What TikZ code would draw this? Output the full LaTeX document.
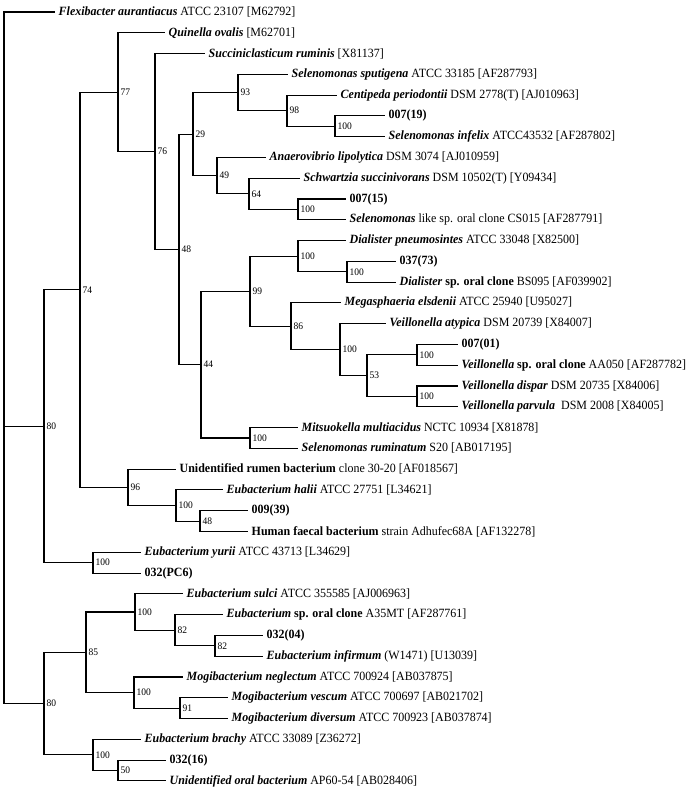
\documentclass[tikz,border=0pt]{standalone}
\usepackage{fontspec}
\setmainfont{Liberation Serif}[FakeStretch=0.95]
\usetikzlibrary{positioning}
\newcommand{\taxon}[1]{\textbf{\textit{#1}}}

\begin{document}
\begin{tikzpicture}[x=1pt,y=-1pt,
  leaf/.style={anchor=west,inner sep=3.5pt,font=\fontsize{12.6}{15}\selectfont},
  boot/.style={anchor=west,inner sep=2.5pt,font=\fontsize{10}{11}\selectfont},
  branch/.style={line width=1.1pt}
]
\useasboundingbox (0,0) rectangle (695,793);
% leaves
\node[leaf] (flex) at (55,12) {\taxon{Flexibacter aurantiacus} ATCC 23107 [M62792]};
\node[leaf] (quin) at (165,32.8) {\taxon{Quinella ovalis} [M62701]};
\node[leaf] (succ) at (205,53.6) {\taxon{Succiniclasticum ruminis} [X81137]};
\node[leaf] (sput) at (288,74.3) {\taxon{Selenomonas sputigena} ATCC 33185 [AF287793]};
\node[leaf] (cent) at (337,95.1) {\taxon{Centipeda periodontii} DSM 2778(T) [AJ010963]};
\node[leaf] (s019) at (385,115.9) {\textbf{007(19)}};
\node[leaf] (infe) at (385,136.7) {\taxon{Selenomonas infelix} ATCC43532 [AF287802]};
\node[leaf] (anae) at (266,157.5) {\taxon{Anaerovibrio lipolytica} DSM 3074 [AJ010959]};
\node[leaf] (schw) at (300,178.2) {\taxon{Schwartzia succinivorans} DSM 10502(T) [Y09434]};
\node[leaf] (s015) at (346,199.0) {\textbf{007(15)}};
\node[leaf] (slike) at (346,219.8) {\taxon{Selenomonas} like sp. oral clone CS015 [AF287791]};
\node[leaf] (dpne) at (346,240.6) {\taxon{Dialister pneumosintes} ATCC 33048 [X82500]};
\node[leaf] (s073) at (396,261.4) {\textbf{037(73)}};
\node[leaf] (dsp) at (396,282.1) {\taxon{Dialister} \textbf{sp. oral clone} BS095 [AF039902]};
\node[leaf] (mega) at (341,302.9) {\taxon{Megasphaeria elsdenii} ATCC 25940 [U95027]};
\node[leaf] (vaty) at (386,323.7) {\taxon{Veillonella atypica} DSM 20739 [X84007]};
\node[leaf] (s001) at (458,344.5) {\textbf{007(01)}};
\node[leaf] (vsp) at (458,365.3) {\taxon{Veillonella} \textbf{sp. oral clone} AA050 [AF287782]};
\node[leaf] (vdis) at (458,386.0) {\taxon{Veillonella dispar} DSM 20735 [X84006]};
\node[leaf] (vpar) at (458,406.8) {\taxon{Veillonella parvula}\ \ DSM 2008 [X84005]};
\node[leaf] (mits) at (298,427.6) {\taxon{Mitsuokella multiacidus} NCTC 10934 [X81878]};
\node[leaf] (srum) at (298,448.4) {\taxon{Selenomonas ruminatum} S20 [AB017195]};
\node[leaf] (urum) at (176,469.2) {\textbf{Unidentified rumen bacterium} clone 30-20 [AF018567]};
\node[leaf] (ehal) at (223,489.9) {\taxon{Eubacterium halii} ATCC 27751 [L34621]};
\node[leaf] (s039) at (248,510.7) {\textbf{009(39)}};
\node[leaf] (hfae) at (248,531.5) {\textbf{Human faecal bacterium} strain Adhufec68A [AF132278]};
\node[leaf] (eyur) at (141,552.3) {\taxon{Eubacterium yurii} ATCC 43713 [L34629]};
\node[leaf] (spc6) at (141,573.1) {\textbf{032(PC6)}};
\node[leaf] (esul) at (183,593.8) {\taxon{Eubacterium sulci} ATCC 355585 [AJ006963]};
\node[leaf] (esp) at (223,614.6) {\taxon{Eubacterium} \textbf{sp. oral clone} A35MT [AF287761]};
\node[leaf] (s004) at (263,635.4) {\textbf{032(04)}};
\node[leaf] (einf) at (263,656.2) {\taxon{Eubacterium infirmum} (W1471) [U13039]};
\node[leaf] (mneg) at (183,677.0) {\taxon{Mogibacterium neglectum} ATCC 700924 [AB037875]};
\node[leaf] (mves) at (228,697.7) {\taxon{Mogibacterium vescum} ATCC 700697 [AB021702]};
\node[leaf] (mdiv) at (228,718.5) {\taxon{Mogibacterium diversum} ATCC 700923 [AB037874]};
\node[leaf] (ebra) at (141,739.3) {\taxon{Eubacterium brachy} ATCC 33089 [Z36272]};
\node[leaf] (s016) at (166,760.1) {\textbf{032(16)}};
\node[leaf] (uora) at (166,780.9) {\taxon{Unidentified oral bacterium} AP60-54 [AB028406]};
% branch points with bootstrap values
\coordinate (root) at (4,426.3);
\node[boot] (n80a) at (44,426.3) {80};
\node[boot] (n74) at (80,289.8) {74};
\node[boot] (n77) at (118,92.2) {77};
\node[boot] (n76) at (155,151.5) {76};
\node[boot] (n48a) at (179,249.4) {48};
\node[boot] (n29) at (193,134.1) {29};
\node[boot] (n93) at (238,92.5) {93};
\node[boot] (n98) at (287,110.7) {98};
\node[boot] (n100a) at (335,126.3) {100};
\node[boot] (n49) at (217,175.7) {49};
\node[boot] (n64) at (249,193.8) {64};
\node[boot] (n100b) at (298,209.4) {100};
\node[boot] (n44) at (201,364.6) {44};
\node[boot] (n99) at (250,291.2) {99};
\node[boot] (n100c) at (298,256.2) {100};
\node[boot] (n100d) at (347,271.8) {100};
\node[boot] (n86) at (291,326.3) {86};
\node[boot] (n100e) at (340,349.7) {100};
\node[boot] (n53) at (367,375.6) {53};
\node[boot] (n100f) at (417,354.9) {100};
\node[boot] (n100g) at (417,396.4) {100};
\node[boot] (n100h) at (250,438.0) {100};
\node[boot] (n96) at (128,487.4) {96};
\node[boot] (n100i) at (176,505.5) {100};
\node[boot] (n48b) at (200,521.1) {48};
\node[boot] (n100j) at (93,562.7) {100};
\node[boot] (n80b) at (44,703.6) {80};
\node[boot] (n85) at (86,652.3) {85};
\node[boot] (n100k) at (135,612.0) {100};
\node[boot] (n82a) at (175,630.2) {82};
\node[boot] (n82b) at (215,645.8) {82};
\node[boot] (n100l) at (134,692.6) {100};
\node[boot] (n91) at (180,708.1) {91};
\node[boot] (n100m) at (93,754.9) {100};
\node[boot] (n50) at (118,770.5) {50};
% branches
\draw[branch] (root) |- (flex.west);
\draw[branch] (root) |- (n80a.west);
\draw[branch] (root) |- (n80b.west);
\draw[branch] (n80a.west) |- (n74.west);
\draw[branch] (n80a.west) |- (n100j.west);
\draw[branch] (n74.west) |- (n77.west);
\draw[branch] (n74.west) |- (n96.west);
\draw[branch] (n77.west) |- (quin.west);
\draw[branch] (n77.west) |- (n76.west);
\draw[branch] (n76.west) |- (succ.west);
\draw[branch] (n76.west) |- (n48a.west);
\draw[branch] (n48a.west) |- (n29.west);
\draw[branch] (n48a.west) |- (n44.west);
\draw[branch] (n29.west) |- (n93.west);
\draw[branch] (n29.west) |- (n49.west);
\draw[branch] (n93.west) |- (sput.west);
\draw[branch] (n93.west) |- (n98.west);
\draw[branch] (n98.west) |- (cent.west);
\draw[branch] (n98.west) |- (n100a.west);
\draw[branch] (n100a.west) |- (s019.west);
\draw[branch] (n100a.west) |- (infe.west);
\draw[branch] (n49.west) |- (anae.west);
\draw[branch] (n49.west) |- (n64.west);
\draw[branch] (n64.west) |- (schw.west);
\draw[branch] (n64.west) |- (n100b.west);
\draw[branch] (n100b.west) |- (s015.west);
\draw[branch] (n100b.west) |- (slike.west);
\draw[branch] (n44.west) |- (n99.west);
\draw[branch] (n44.west) |- (n100h.west);
\draw[branch] (n99.west) |- (n100c.west);
\draw[branch] (n99.west) |- (n86.west);
\draw[branch] (n100c.west) |- (dpne.west);
\draw[branch] (n100c.west) |- (n100d.west);
\draw[branch] (n100d.west) |- (s073.west);
\draw[branch] (n100d.west) |- (dsp.west);
\draw[branch] (n86.west) |- (mega.west);
\draw[branch] (n86.west) |- (n100e.west);
\draw[branch] (n100e.west) |- (vaty.west);
\draw[branch] (n100e.west) |- (n53.west);
\draw[branch] (n53.west) |- (n100f.west);
\draw[branch] (n53.west) |- (n100g.west);
\draw[branch] (n100f.west) |- (s001.west);
\draw[branch] (n100f.west) |- (vsp.west);
\draw[branch] (n100g.west) |- (vdis.west);
\draw[branch] (n100g.west) |- (vpar.west);
\draw[branch] (n100h.west) |- (mits.west);
\draw[branch] (n100h.west) |- (srum.west);
\draw[branch] (n96.west) |- (urum.west);
\draw[branch] (n96.west) |- (n100i.west);
\draw[branch] (n100i.west) |- (ehal.west);
\draw[branch] (n100i.west) |- (n48b.west);
\draw[branch] (n48b.west) |- (s039.west);
\draw[branch] (n48b.west) |- (hfae.west);
\draw[branch] (n100j.west) |- (eyur.west);
\draw[branch] (n100j.west) |- (spc6.west);
\draw[branch] (n80b.west) |- (n85.west);
\draw[branch] (n80b.west) |- (n100m.west);
\draw[branch] (n85.west) |- (n100k.west);
\draw[branch] (n85.west) |- (n100l.west);
\draw[branch] (n100k.west) |- (esul.west);
\draw[branch] (n100k.west) |- (n82a.west);
\draw[branch] (n82a.west) |- (esp.west);
\draw[branch] (n82a.west) |- (n82b.west);
\draw[branch] (n82b.west) |- (s004.west);
\draw[branch] (n82b.west) |- (einf.west);
\draw[branch] (n100l.west) |- (mneg.west);
\draw[branch] (n100l.west) |- (n91.west);
\draw[branch] (n91.west) |- (mves.west);
\draw[branch] (n91.west) |- (mdiv.west);
\draw[branch] (n100m.west) |- (ebra.west);
\draw[branch] (n100m.west) |- (n50.west);
\draw[branch] (n50.west) |- (s016.west);
\draw[branch] (n50.west) |- (uora.west);
\end{tikzpicture}
\end{document}
